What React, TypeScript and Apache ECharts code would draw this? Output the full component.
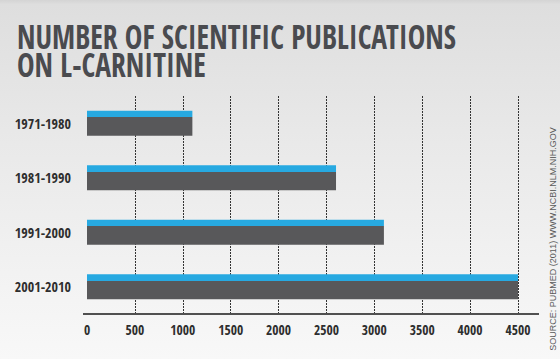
import React, { useEffect, useRef } from "react";
import * as echarts from "echarts";

const categories = ["1971-1980", "1981-1990", "1991-2000", "2001-2010"];
const publications = [1100, 2600, 3100, 4500];
const titleLines = ["NUMBER OF SCIENTIFIC PUBLICATIONS", "ON L-CARNITINE"];
const sourceText = "SOURCE: PUBMED (2011) WWW.NCBI.NLM.NIH.GOV";

const COND_FONT = "'Open Sans Condensed', 'Roboto Condensed', 'DejaVu Sans Condensed', sans-serif";

function measure(text: string, font: string): number {
  const c = document.createElement("canvas");
  const ctx = c.getContext("2d");
  if (!ctx) return text.length * 10;
  ctx.font = font;
  return ctx.measureText(text).width;
}

export default function App() {
  const ref = useRef<HTMLDivElement>(null);
  useEffect(() => {
    document.body.style.margin = "0";
    if (!ref.current) return;
    const chart = echarts.init(ref.current, null, { renderer: "svg" });
    const titleSize = 34;
    const titleFont = `bold ${titleSize}px ${COND_FONT}`;
    const w = measure(titleLines[0], titleFont);
    const sx = 439 / w;
    const barColor = new echarts.graphic.LinearGradient(0, 0, 0, 1, [
      { offset: 0, color: "#27a9e1" },
      { offset: 0.255, color: "#27a9e1" },
      { offset: 0.255, color: "#58585a" },
      { offset: 1, color: "#58585a" },
    ]);
    chart.setOption({
      animation: false,
      backgroundColor: new echarts.graphic.LinearGradient(0, 0, 0, 1, [
        { offset: 0, color: "#d4d4d4" },
        { offset: 0.012, color: "#dedede" },
        { offset: 0.4, color: "#e9e9e9" },
        { offset: 1, color: "#f8f8f8" },
      ]),
      grid: { left: 87, right: 42, top: 96, height: 218, outerBoundsMode: "none", containLabel: false },
      xAxis: {
        type: "value",
        min: 0,
        max: 4500,
        interval: 500,
        axisLine: { show: false },
        axisTick: { show: false },
        axisLabel: {
          color: "#2e2e2e",
          fontFamily: COND_FONT,
          fontWeight: "bold",
          fontSize: 13.5,
          margin: 9,
          formatter: (v: number) => String(v),
        },
        splitLine: {
          show: true,
          showMinLine: false,
          lineStyle: { color: "#333", type: [2, 1], width: 1 },
        },
      },
      yAxis: {
        type: "category",
        data: categories,
        inverse: true,
        axisLine: { show: false },
        axisTick: { show: false },
        axisLabel: {
          color: "#2e2e2e",
          fontFamily: COND_FONT,
          fontWeight: "bold",
          fontSize: 14,
          margin: 16,
        },
      },
      series: [
        {
          type: "bar",
          data: publications,
          barWidth: 25,
          itemStyle: { color: barColor },
          z: 3,
        },
      ],
      graphic: [
        {
          type: "text",
          x: 17,
          y: 36,
          scaleX: sx,
          style: {
            text: titleLines[0],
            font: titleFont,
            fill: "#4a4b4f",
            align: "left",
            verticalAlign: "middle",
          },
        },
        {
          type: "text",
          x: 17,
          y: 64,
          scaleX: sx,
          style: {
            text: titleLines[1],
            font: titleFont,
            fill: "#4a4b4f",
            align: "left",
            verticalAlign: "middle",
          },
        },
        {
          type: "line",
          shape: { x1: 83, y1: 314, x2: 539, y2: 314 },
          style: { stroke: "#505050", lineWidth: 2 },
          z: 10,
        },
        {
          type: "text",
          x: 553,
          y: 239,
          rotation: Math.PI / 2,
          style: {
            text: sourceText,
            font: "9px 'Liberation Sans', Arial, sans-serif",
            fill: "#5a5a5a",
            align: "center",
            verticalAlign: "middle",
          },
        },
      ],
    });
    return () => chart.dispose();
  }, []);
  return <div ref={ref} style={{ width: 560, height: 359 }} />;
}
